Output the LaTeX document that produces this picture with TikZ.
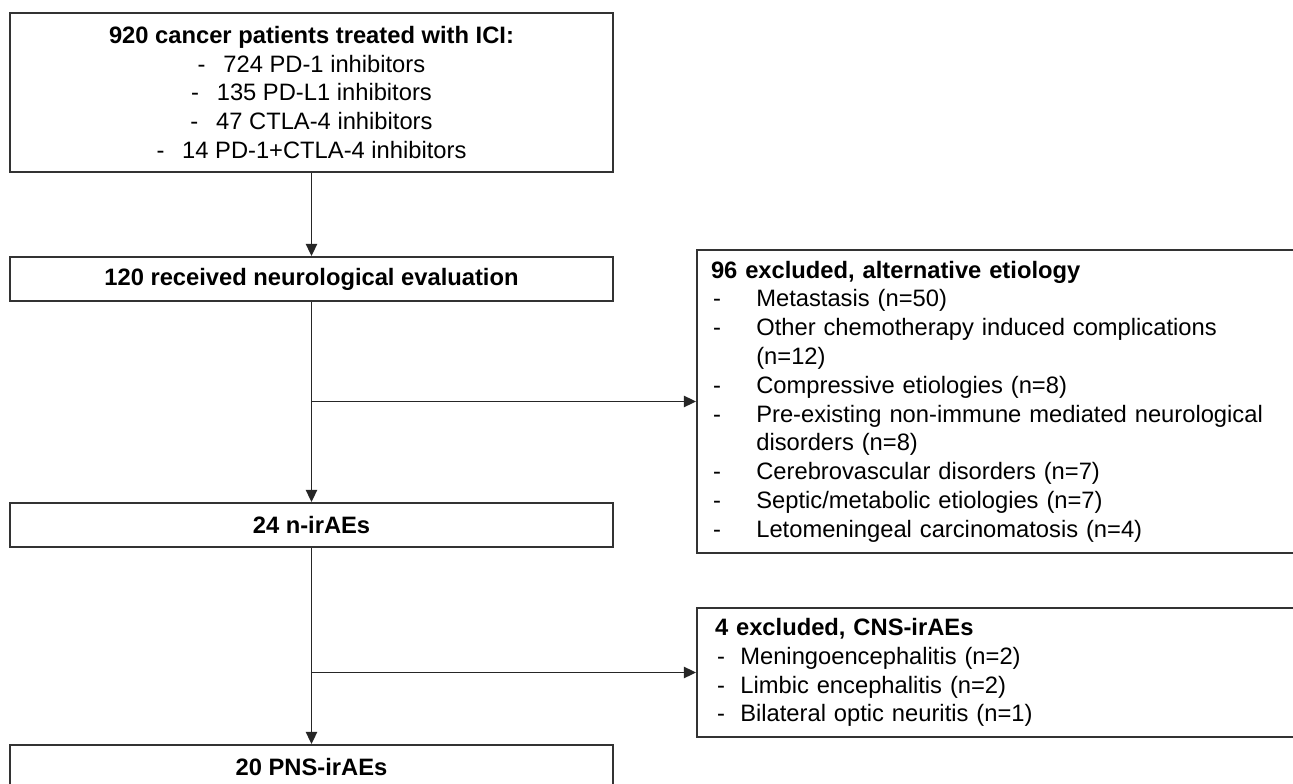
\documentclass[tikz,border=0pt]{standalone}
\usepackage{fontspec}
\setmainfont{Liberation Sans}
\usetikzlibrary{arrows.meta}
\newcommand{\dashcol}[1]{\makebox[#1][l]{\hspace{1.5pt}-}}
\begin{document}
\begin{tikzpicture}[x=0.75pt,y=-0.75pt,
  font=\fontsize{17.8}{21.6}\selectfont,
  box/.style={draw=black!80, line width=1.6pt, rectangle, inner sep=0pt, minimum width=452.25pt},
  boldbox/.style={box, minimum height=33pt, font=\fontsize{17.8}{21.6}\selectfont\bfseries},
  conn/.style={line width=1.1pt, draw=black!85},
  arr/.style={conn, -{Triangle[length=9pt,width=8.5pt]}}]
\useasboundingbox (0,0) rectangle (1293,784);
\clip (0,0) rectangle (1293,784);
\fill[white] (0,0) rectangle (1293,784);

\node[box, minimum height=119.25pt, align=center] (A) at (311.5,92.5)
  {\textbf{920 cancer patients treated with ICI:}\\
   -\hspace{0.75em}724 PD-1 inhibitors\\
   -\hspace{0.75em}135 PD-L1 inhibitors\\
   -\hspace{0.75em}47 CTLA-4 inhibitors\\
   -\hspace{0.75em}14 PD-1+CTLA-4 inhibitors};

\node[boldbox] (B) at (311.5,279) {120 received neurological evaluation};
\node[boldbox] (C) at (311.5,525) {24 n-irAEs};
\node[boldbox] (E) at (311.5,767) {20 PNS-irAEs};

\node[box, minimum height=227.25pt, inner xsep=10.5pt, text width=431.25pt, align=left] (D) at (998.5,401.5)
  {\textbf{96 excluded, alternative etiology}\\
   \dashcol{34pt}Metastasis (n=50)\\
   \dashcol{34pt}Other chemotherapy induced complications\\
   \hspace*{34pt}(n=12)\\
   \dashcol{34pt}Compressive etiologies (n=8)\\
   \dashcol{34pt}Pre-existing non-immune mediated neurological\\
   \hspace*{34pt}disorders (n=8)\\
   \dashcol{34pt}Cerebrovascular disorders (n=7)\\
   \dashcol{34pt}Septic/metabolic etiologies (n=7)\\
   \dashcol{34pt}Letomeningeal carcinomatosis (n=4)};

\node[box, minimum height=96.75pt, inner xsep=13.5pt, text width=425.25pt, align=left] (F) at (998.5,672.5)
  {\textbf{4 excluded, CNS-irAEs}\\
   \dashcol{19pt}Meningoencephalitis (n=2)\\
   \dashcol{19pt}Limbic encephalitis (n=2)\\
   \dashcol{19pt}Bilateral optic neuritis (n=1)};

\draw[arr] (A.south) -- (B.north);
\draw[arr] (B.south) -- (C.north);
\draw[arr] (B.south |- D.west) -- (D.west);
\draw[arr] (C.south) -- (E.north);
\draw[arr] (C.south |- F.west) -- (F.west);
\end{tikzpicture}
\end{document}
